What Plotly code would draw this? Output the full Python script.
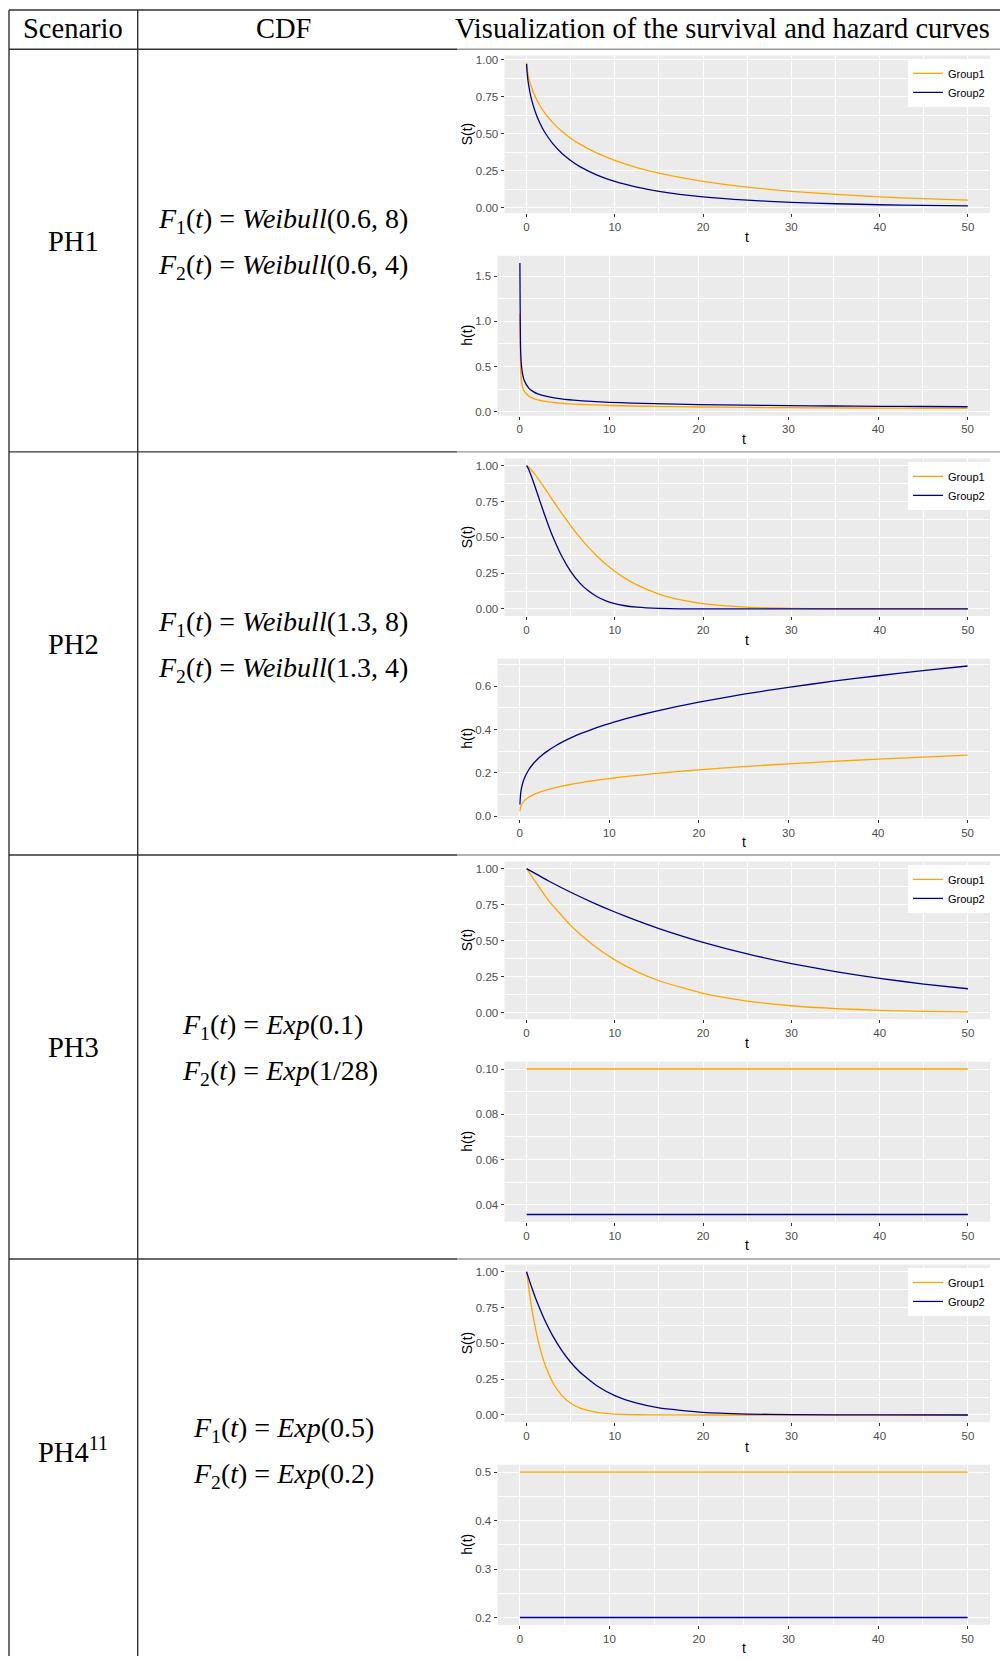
import plotly.graph_objects as go

W, H = 1000, 1659
ROW_H = 404.0
ORANGE = "#FFA500"
BLUE = "#00008B"

# ---------------- data ----------------
t_weib = [0.01, 0.1, 0.25, 0.5, 1, 1.5, 2, 3, 4, 5, 6, 8, 10, 12.5, 15, 20, 25, 30, 35, 40, 45, 50]

ph1_S1 = [0.982, 0.930, 0.8825, 0.827, 0.750, 0.693, 0.647, 0.574, 0.517, 0.470, 0.431, 0.368,
          0.319, 0.2706, 0.2327, 0.1768, 0.1379, 0.1097, 0.0886, 0.0723, 0.0597, 0.0497]
ph1_S2 = [0.973, 0.896, 0.8274, 0.750, 0.647, 0.574, 0.517, 0.431, 0.368, 0.319, 0.279, 0.220,
          0.1768, 0.1379, 0.1097, 0.0723, 0.0496, 0.0351, 0.0254, 0.0187, 0.0139, 0.0106]
ph1_h1 = [1.087, 0.4328, 0.300, 0.2274, 0.1723, 0.1465, 0.1306, 0.1110, 0.0990, 0.0905, 0.0841, 0.075,
          0.0686, 0.0627, 0.0583, 0.0520, 0.0476, 0.0442, 0.0416, 0.0394, 0.0376, 0.0360]
ph1_h2 = [1.648, 0.656, 0.4547, 0.3446, 0.2612, 0.2221, 0.1979, 0.1683, 0.150, 0.1372, 0.1275, 0.1137,
          0.1040, 0.0951, 0.0884, 0.0788, 0.0721, 0.0670, 0.0630, 0.0597, 0.0570, 0.0546]

t_ph2 = [0.01, 0.1, 0.25, 0.5, 1, 1.5, 2, 2.5, 3, 4, 5, 6, 7, 8, 9, 10, 11, 12.5, 15, 17.5, 20,
         25, 30, 35, 40, 45, 50]
ph2_S1 = [1.000, 0.9966, 0.989, 0.9732, 0.9352, 0.8927, 0.848, 0.8022, 0.7562, 0.6662, 0.5811, 0.5026,
          0.4314, 0.3679, 0.3118, 0.2628, 0.2203, 0.1676, 0.1039, 0.0629, 0.0372, 0.0123, 0.0038, 0.0011,
          0.0003, 0.0001, 0.0]
ph2_S2 = [0.9996, 0.9918, 0.9732, 0.9352, 0.848, 0.7562, 0.6662, 0.5811, 0.5026, 0.3679, 0.2628, 0.1838,
          0.1262, 0.0853, 0.0567, 0.0372, 0.0241, 0.0123, 0.0038, 0.0011, 0.0003, 0.0, 0.0, 0.0,
          0.0, 0.0, 0.0]
ph2_h1 = [0.0219, 0.0436, 0.0575, 0.0707, 0.0871, 0.0983, 0.1072, 0.1146, 0.1211, 0.1320, 0.1411, 0.1491,
          0.1561, 0.1625, 0.1684, 0.1737, 0.1788, 0.1858, 0.1962, 0.2055, 0.2139, 0.2287, 0.2416, 0.2530,
          0.2634, 0.2728, 0.2816]
ph2_h2 = [0.0539, 0.1075, 0.1415, 0.1742, 0.2144, 0.2422, 0.2640, 0.2823, 0.2981, 0.325, 0.3475, 0.3670,
          0.3844, 0.4001, 0.4145, 0.4278, 0.4402, 0.4574, 0.4832, 0.5060, 0.5267, 0.5632, 0.5948, 0.6230,
          0.6484, 0.6718, 0.6934]

t_ph3 = [0, 2.5, 5, 7.5, 10, 12.5, 15, 20, 25, 30, 35, 40, 45, 50]
ph3_S1 = [1.0, 0.7788, 0.6065, 0.4724, 0.3679, 0.2865, 0.2231, 0.1353, 0.0821, 0.0498, 0.0302, 0.0183, 0.0111, 0.0067]
ph3_S2 = [1.0, 0.9146, 0.8364, 0.7650, 0.6997, 0.6400, 0.5853, 0.4895, 0.4095, 0.3425, 0.2865, 0.2397, 0.2005, 0.1677]

t_const = [0, 50]
ph3_h1 = [0.1, 0.1]
ph3_h2 = [0.0357, 0.0357]

t_ph4 = [0, 0.5, 1, 1.5, 2, 3, 4, 5, 6, 8, 10, 12.5, 15, 20, 25, 30, 40, 50]
ph4_S1 = [1.0, 0.7788, 0.6065, 0.4724, 0.3679, 0.2231, 0.1353, 0.0821, 0.0498, 0.0183, 0.0067, 0.0019,
          0.0006, 0.00005, 0.0, 0.0, 0.0, 0.0]
ph4_S2 = [1.0, 0.9048, 0.8187, 0.7408, 0.6703, 0.5488, 0.4493, 0.3679, 0.3012, 0.2019, 0.1353, 0.0821,
          0.0498, 0.0183, 0.0067, 0.0025, 0.0003, 0.00005]
ph4_h1 = [0.5, 0.5]
ph4_h2 = [0.2, 0.2]

group_names = ["Group1", "Group2"]

scenario_labels = ["PH1", "PH2", "PH3", "PH4<sup>11</sup>"]
cdf_line1 = ["<i>F</i><sub>1</sub>(<i>t</i>) = <i>Weibull</i>(0.6, 8)",
             "<i>F</i><sub>1</sub>(<i>t</i>) = <i>Weibull</i>(1.3, 8)",
             "<i>F</i><sub>1</sub>(<i>t</i>) = <i>Exp</i>(0.1)",
             "<i>F</i><sub>1</sub>(<i>t</i>) = <i>Exp</i>(0.5)"]
cdf_line2 = ["<i>F</i><sub>2</sub>(<i>t</i>) = <i>Weibull</i>(0.6, 4)",
             "<i>F</i><sub>2</sub>(<i>t</i>) = <i>Weibull</i>(1.3, 4)",
             "<i>F</i><sub>2</sub>(<i>t</i>) = <i>Exp</i>(1/28)",
             "<i>F</i><sub>2</sub>(<i>t</i>) = <i>Exp</i>(0.2)"]
header_labels = ["Scenario", "CDF", "Visualization of the survival and hazard curves"]

# ---------------- layout helpers ----------------
def fx(x):
    return x / W

def fy(y):
    return 1 - y / H

SANS = "Liberation Sans, Arial, sans-serif"
SERIF = "Liberation Serif, Times New Roman, serif"

panels = [
    # row, kind, t, y1, y2, dtick, fmt, left
    (0, "S", t_weib, ph1_S1, ph1_S2, 0.25, ".2f", 504.5),
    (0, "h", t_weib, ph1_h1, ph1_h2, 0.5, ".1f", 497.5),
    (1, "S", t_ph2, ph2_S1, ph2_S2, 0.25, ".2f", 504.5),
    (1, "h", t_ph2, ph2_h1, ph2_h2, 0.2, ".1f", 497.5),
    (2, "S", t_ph3, ph3_S1, ph3_S2, 0.25, ".2f", 504.5),
    (2, "h", t_const, ph3_h1, ph3_h2, 0.02, ".2f", 504.5),
    (3, "S", t_ph4, ph4_S1, ph4_S2, 0.25, ".2f", 504.5),
    (3, "h", t_const, ph4_h1, ph4_h2, 0.1, ".1f", 497.5),
]

fig = go.Figure()
layout = {}
annotations = []
RIGHT = 990.0

for i, (row, kind, t, y1, y2, dtick, fmt, left) in enumerate(panels):
    n = i + 1
    sx = "" if n == 1 else str(n)
    off = ROW_H * row
    if kind == "S":
        top, bottom = 54.6 + off, 212.6 + off
    else:
        top, bottom = 255.3 + off, 415.7 + off
    ymin = min(min(y1), min(y2))
    ymax = max(max(y1), max(y2))
    pad = 0.05 * (ymax - ymin)
    tmin, tmax = min(t), max(t)
    tpad = 0.05 * (tmax - tmin)
    leg = None
    if kind == "S":
        leg = "legend" if row == 0 else "legend%d" % (row + 1)
    for yy, nm, col in ((y1, group_names[0], ORANGE), (y2, group_names[1], BLUE)):
        tr = dict(x=t, y=yy, mode="lines", name=nm,
                  line=dict(color=col, width=1.3, shape="spline", smoothing=0.5),
                  xaxis="x" + sx, yaxis="y" + sx, showlegend=(kind == "S"),
                  hoverinfo="skip")
        if leg:
            tr["legend"] = leg
        fig.add_trace(go.Scatter(**tr))
    axis_common = dict(showgrid=True, gridcolor="white", gridwidth=1.1, zeroline=False,
                       showline=False, ticks="outside", ticklen=3, tickwidth=1,
                       tickcolor="#333333", tickfont=dict(family=SANS, size=11.5, color="#4D4D4D"))
    layout["xaxis" + sx] = dict(domain=[fx(left), fx(RIGHT)], anchor="y" + sx,
                                range=[tmin - tpad, tmax + tpad], tick0=0, dtick=10,
                                minor=dict(dtick=5, tick0=0, showgrid=True, gridcolor="white",
                                           gridwidth=0.55, ticks=""),
                                **axis_common)
    layout["yaxis" + sx] = dict(domain=[fy(bottom), fy(top)], anchor="x" + sx,
                                range=[ymin - pad, ymax + pad], tick0=0, dtick=dtick,
                                tickformat=fmt,
                                minor=dict(dtick=dtick / 2, tick0=0, showgrid=True, gridcolor="white",
                                           gridwidth=0.55, ticks=""),
                                **axis_common)
    # axis titles
    title_t_y = (237 if kind == "S" else 439) + off
    annotations.append(dict(text="t", x=fx((left + RIGHT) / 2), y=fy(title_t_y), xref="paper", yref="paper",
                            showarrow=False, font=dict(family=SANS, size=14, color="black"),
                            xanchor="center", yanchor="middle"))
    annotations.append(dict(text="S(t)" if kind == "S" else "h(t)", x=fx(467), y=fy((top + bottom) / 2),
                            xref="paper", yref="paper", showarrow=False, textangle=-90,
                            font=dict(family=SANS, size=14, color="black"),
                            xanchor="center", yanchor="middle"))
    if kind == "S":
        key = "legend" if row == 0 else "legend%d" % (row + 1)
        layout[key] = dict(x=fx(RIGHT), y=fy(58 + off), xanchor="right", yanchor="top",
                           bgcolor="white", borderwidth=0, itemwidth=30, tracegroupgap=0,
                           font=dict(family=SANS, size=11, color="black"))

# ---------------- table text ----------------
header_x = [73, 283.6, 722]
for lab, x in zip(header_labels, header_x):
    annotations.append(dict(text=lab, x=fx(x), y=fy(28), xref="paper", yref="paper", showarrow=False,
                            font=dict(family=SERIF, size=28.5, color="black"),
                            xanchor="center", yanchor="middle"))

formula_left = [155.6, 155.6, 180, 190.5]
for r in range(4):
    off = ROW_H * r
    annotations.append(dict(text=scenario_labels[r], x=fx(73), y=fy(241 + off), xref="paper", yref="paper",
                            showarrow=False, font=dict(family=SERIF, size=28.5, color="black"),
                            xanchor="center", yanchor="middle"))
    annotations.append(dict(text=cdf_line1[r], x=fx(formula_left[r]), y=fy(220 + off), xref="paper",
                            yref="paper", showarrow=False, font=dict(family=SERIF, size=28, color="black"),
                            xanchor="left", yanchor="middle"))
    annotations.append(dict(text=cdf_line2[r], x=fx(formula_left[r]), y=fy(266 + off), xref="paper",
                            yref="paper", showarrow=False, font=dict(family=SERIF, size=28, color="black"),
                            xanchor="left", yanchor="middle"))

# ---------------- table rules ----------------
shapes = []
DARK = "#333333"
LIGHT = "#9A9A9A"
shapes.append(dict(type="line", xref="paper", yref="paper", x0=fx(9), x1=fx(1000), y0=fy(9), y1=fy(9),
                   line=dict(color=DARK, width=1.4)))
for yline in [48.3, 452, 856, 1261]:
    shapes.append(dict(type="line", xref="paper", yref="paper", x0=fx(9), x1=fx(457), y0=fy(yline),
                       y1=fy(yline), line=dict(color=DARK, width=1.4)))
    shapes.append(dict(type="line", xref="paper", yref="paper", x0=fx(457), x1=fx(1000), y0=fy(yline),
                       y1=fy(yline), line=dict(color=LIGHT, width=1.4)))
for xline in [9, 137.7]:
    shapes.append(dict(type="line", xref="paper", yref="paper", x0=fx(xline), x1=fx(xline), y0=fy(9),
                       y1=fy(1659), line=dict(color=DARK, width=1.4)))

fig.update_layout(width=W, height=H, margin=dict(l=0, r=0, t=0, b=0),
                  paper_bgcolor="white", plot_bgcolor="#EBEBEB",
                  annotations=annotations, shapes=shapes, **layout)

fig.write_html("out.html", config={"displayModeBar": False},
               post_script="document.body.style.margin='0px';document.body.style.padding='0px';")
